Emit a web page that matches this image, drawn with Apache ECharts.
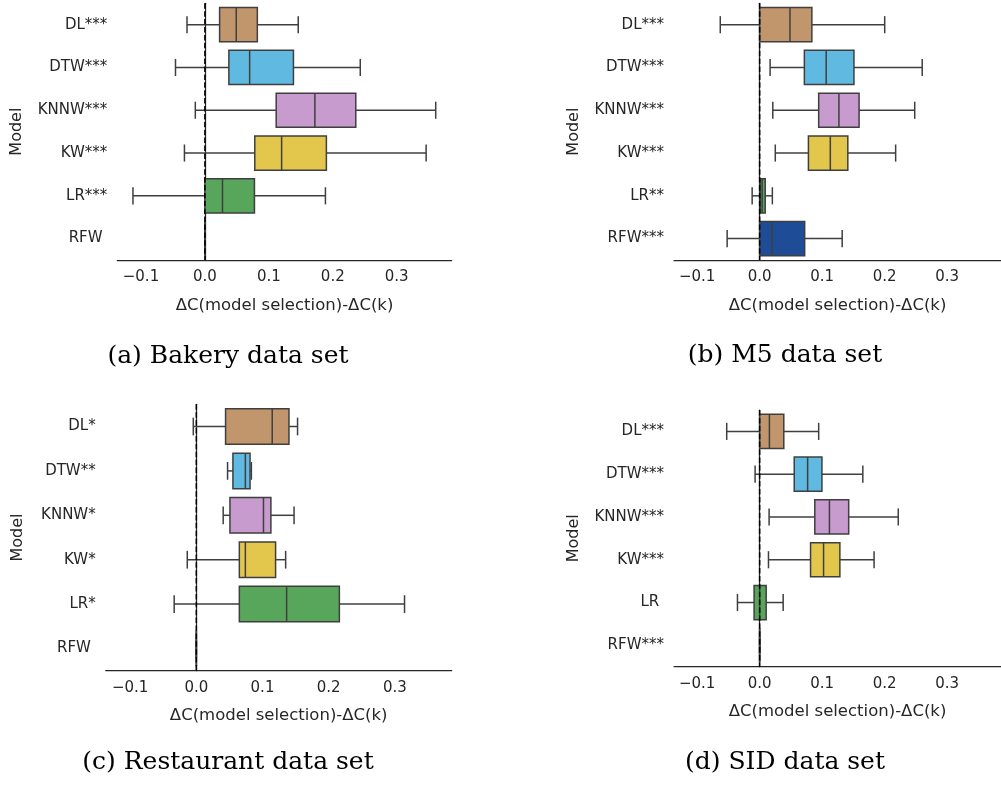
<!DOCTYPE html>
<html>
<head>
<meta charset="utf-8">
<script src="https://cdn.jsdelivr.net/npm/echarts@6/dist/echarts.min.js"></script>
<style>
  html, body { margin: 0; padding: 0; background: #ffffff; }
  #chart { width: 1001px; height: 785px; }
</style>
</head>
<body>
<div id="chart"></div>
<script>
// Five-number summaries per model: [lower whisker, Q1, median, Q3, upper whisker]
const bakeryLabels = ['DL***', 'DTW***', 'KNNW***', 'KW***', 'LR***', 'RFW '];
const bakeryStats = [
  [-0.028, 0.023, 0.049, 0.082, 0.146],
  [-0.046, 0.0375, 0.070, 0.1385, 0.243],
  [-0.015, 0.1115, 0.172, 0.236, 0.361],
  [-0.032, 0.078, 0.120, 0.190, 0.346],
  [-0.1125, 0.0, 0.0275, 0.0775, 0.1885],
  [0, 0, 0, 0, 0]
];

const m5Labels = ['DL***', 'DTW***', 'KNNW***', 'KW***', 'LR**', 'RFW***'];
const m5Stats = [
  [-0.063, 0.0, 0.0485, 0.0835, 0.200],
  [0.0167, 0.0715, 0.1064, 0.1508, 0.260],
  [0.021, 0.0944, 0.1268, 0.159, 0.248],
  [0.025, 0.078, 0.113, 0.141, 0.2175],
  [-0.012, 0.001, 0.004, 0.0089, 0.0203],
  [-0.052, 0.0, 0.0198, 0.072, 0.132]
];

const restaurantLabels = ['DL*', 'DTW**', 'KNNW*', 'KW*', 'LR*', 'RFW '];
const restaurantStats = [
  [-0.0046, 0.0442, 0.1147, 0.140, 0.153],
  [0.0472, 0.0553, 0.0741, 0.0812, 0.0832],
  [0.0406, 0.0508, 0.1015, 0.1127, 0.1477],
  [-0.0137, 0.065, 0.0741, 0.1198, 0.135],
  [-0.0335, 0.065, 0.1365, 0.2162, 0.3147],
  [0, 0, 0, 0, 0]
];

const sidLabels = ['DL***', 'DTW***', 'KNNW***', 'KW***', 'LR ', 'RFW***'];
const sidStats = [
  [-0.0527, 0.0, 0.0156, 0.0386, 0.0944],
  [-0.0073, 0.0553, 0.0767, 0.0996, 0.165],
  [0.0151, 0.0882, 0.1116, 0.1424, 0.2217],
  [0.0141, 0.0814, 0.1022, 0.1283, 0.183],
  [-0.0355, -0.0089, 0.0, 0.0104, 0.0376],
  [0, 0, 0, 0, 0]
];

const captions = ['(a) Bakery data set', '(b) M5 data set', '(c) Restaurant data set', '(d) SID data set'];
const xTickValues = [-0.1, 0, 0.1, 0.2, 0.3];
const xTickLabels = ['\u22120.1', '0.0', '0.1', '0.2', '0.3'];
const xAxisTitle = '\u0394C(model selection)-\u0394C(k)';
const yAxisTitle = 'Model';

// Per-model fill colours (DL, DTW, KNNW, KW, LR, RFW)
const modelColors = ['#c2966c', '#60b9e1', '#c89bcf', '#e3c64c', '#58a55c', '#1f4c96'];

const panels = [
  { labels: bakeryLabels, stats: bakeryStats, grid: { left: 117.3, top: 3.3, width: 334.4, height: 256.7 }, nameGap: 92 },
  { labels: m5Labels, stats: m5Stats, grid: { left: 674, top: 3.3, width: 334.4, height: 256.7 }, nameGap: 92 },
  { labels: restaurantLabels, stats: restaurantStats, grid: { left: 105.7, top: 404.3, width: 346, height: 266.4 }, nameGap: 80 },
  { labels: sidLabels, stats: sidStats, grid: { left: 674, top: 410, width: 334.4, height: 256.7 }, nameGap: 92 }
];
const captionPos = [[228, 356], [785, 355], [228, 762], [785, 762]];

const FONT = 'DejaVu Sans';
const INK = '#262626';
const EDGE = '#3f3f3f';

function tickLabel(v) {
  let best = 0;
  xTickValues.forEach((t, i) => { if (Math.abs(t - v) < Math.abs(xTickValues[best] - v)) best = i; });
  return xTickLabels[best];
}

function renderBox(params, api) {
  const cat = api.value(0);
  const pts = [1, 2, 3, 4, 5].map(i => api.coord([api.value(i), cat]));
  const cy = pts[0][1];
  const band = api.size([0, 1])[1];
  const h = band * 0.8;
  const cap = h / 4;
  const line = { stroke: EDGE, lineWidth: 1.5 };
  return {
    type: 'group',
    children: [
      { type: 'line', shape: { x1: pts[0][0], y1: cy, x2: pts[1][0], y2: cy }, style: line },
      { type: 'line', shape: { x1: pts[3][0], y1: cy, x2: pts[4][0], y2: cy }, style: line },
      { type: 'line', shape: { x1: pts[0][0], y1: cy - cap, x2: pts[0][0], y2: cy + cap }, style: line },
      { type: 'line', shape: { x1: pts[4][0], y1: cy - cap, x2: pts[4][0], y2: cy + cap }, style: line },
      { type: 'rect', shape: { x: pts[1][0], y: cy - h / 2, width: pts[3][0] - pts[1][0], height: h },
        style: { fill: modelColors[cat], stroke: EDGE, lineWidth: 1.5 } },
      { type: 'line', shape: { x1: pts[2][0], y1: cy - h / 2, x2: pts[2][0], y2: cy + h / 2 }, style: line }
    ]
  };
}

function renderZeroLine(params, api) {
  const x = api.coord([api.value(0), 0])[0];
  const cs = params.coordSys;
  return {
    type: 'line',
    shape: { x1: x, y1: cs.y, x2: x, y2: cs.y + cs.height },
    style: { stroke: '#000000', lineWidth: 1.5, lineDash: [5.5, 2.4] }
  };
}

const grid = [], xAxis = [], yAxis = [], series = [];
panels.forEach((p, k) => {
  grid.push(Object.assign({ containLabel: false }, p.grid));
  xAxis.push({
    type: 'value', gridIndex: k, min: -0.137, max: 0.386,
    axisLine: { show: true, lineStyle: { color: INK, width: 1.25 } },
    axisTick: { show: false },
    splitLine: { show: false },
    axisLabel: { customValues: xTickValues, formatter: tickLabel, fontFamily: FONT, fontSize: 15, color: INK, margin: 10 },
    name: xAxisTitle, nameLocation: 'middle', nameGap: 37,
    nameTextStyle: { fontFamily: FONT, fontSize: 16.5, color: INK }
  });
  yAxis.push({
    type: 'category', gridIndex: k, data: p.labels, inverse: true,
    axisLine: { show: true, lineStyle: { color: INK, width: 1.25 } },
    axisTick: { show: false },
    splitLine: { show: false },
    axisLabel: { fontFamily: FONT, fontSize: 15, color: INK, margin: 10 },
    name: yAxisTitle, nameLocation: 'middle', nameGap: p.nameGap, nameRotate: 90,
    nameTextStyle: { fontFamily: FONT, fontSize: 16, color: INK }
  });
  series.push({
    type: 'custom', xAxisIndex: k, yAxisIndex: k,
    renderItem: renderBox,
    encode: { x: [1, 2, 3, 4, 5], y: 0 },
    data: p.stats.map((s, i) => [i].concat(s)),
    z: 2, silent: true
  });
  series.push({
    type: 'custom', xAxisIndex: k, yAxisIndex: k,
    renderItem: renderZeroLine,
    encode: { x: 0, y: 1 },
    data: [[0, 0]],
    z: 3, silent: true
  });
});

const chart = echarts.init(document.getElementById('chart'), null, { renderer: 'canvas' });
chart.setOption({
  animation: false,
  backgroundColor: '#ffffff',
  grid, xAxis, yAxis, series,
  graphic: captions.map((c, i) => ({
    type: 'text', x: captionPos[i][0], y: captionPos[i][1],
    style: { text: c, font: '25px "DejaVu Serif"', fill: '#000000', align: 'center', verticalAlign: 'middle' }
  }))
});
</script>
</body>
</html>
